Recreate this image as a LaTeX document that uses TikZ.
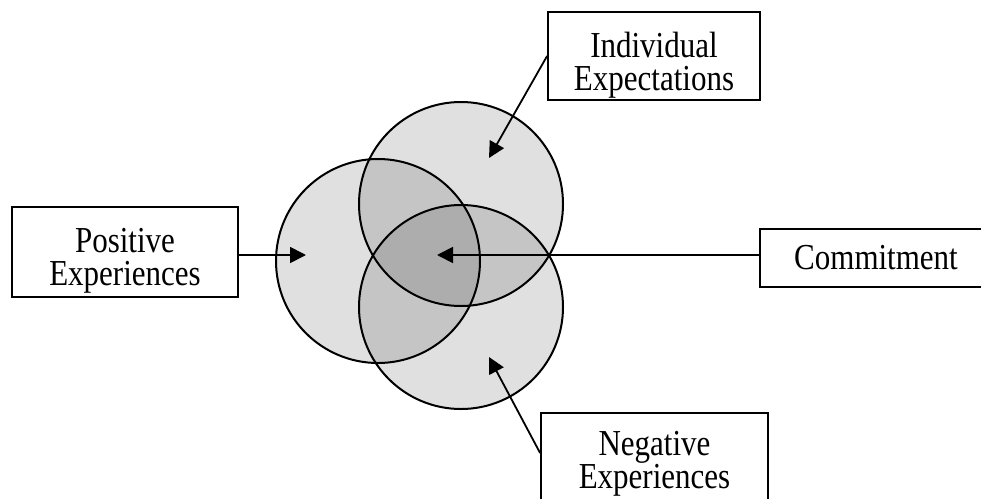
\documentclass[tikz,border=0pt]{standalone}
\usepackage{fontspec}
\setmainfont{Liberation Serif}
\usetikzlibrary{arrows.meta}
\newcommand\talltext[1]{\scalebox{1}[1.18]{#1}}
\begin{document}
\begin{tikzpicture}[x=1pt,y=-1pt,
  box/.style={draw, line width=1.8pt, fill=white, align=center, inner sep=0pt,
    font=\fontsize{31}{33}\selectfont},
  conn/.style={line width=1.8pt, -{Triangle[length=16pt,width=16pt]}},
  disc/.style={circle, inner sep=0pt, minimum size=204pt, fill=black, fill opacity=0.12},
  ring/.style={line width=2pt},
]
\useasboundingbox (0,0) rectangle (981,498);
\clip (0,0) rectangle (981,498);

% shaded circles
\node[disc] (cL) at (378,261) {};
\node[disc] (cT) at (461,204) {};
\node[disc] (cB) at (461,307) {};
\draw[ring] (cL.center) circle (102);
\draw[ring] (cT.center) circle (102);
\draw[ring] (cB.center) circle (102);

% boxes
\node[box, minimum width=226pt, minimum height=90pt, text height=74pt, text depth=8pt] (pos) at (125,252)
  {\talltext{Positive}\\\talltext{Experiences}};
\node[box, minimum width=212pt, minimum height=88pt, text height=76pt, text depth=8pt] (ind) at (654,56)
  {\talltext{Individual}\\\talltext{Expectations}};
\node[box, minimum width=232pt, minimum height=58pt] (com) at (876,258)
  {\talltext{Commitment}};
\node[box, minimum width=227pt, minimum height=92pt, text height=66pt, text depth=8pt] (neg) at (654.5,459)
  {\talltext{Negative}\\\talltext{Experiences}};

% arrow end points
\coordinate (tipP) at (306,255);
\coordinate (tipC) at (437,255);
\coordinate (tipI) at (489,158);
\coordinate (tipN) at (489,357);
\coordinate (srcN) at (541,453);

\draw[conn] (pos.east |- tipP) -- (tipP);
\draw[conn] (com.west |- tipC) -- (tipC);
\draw[conn] (ind.west) -- (tipI);
\draw[conn] (neg.west |- srcN) -- (tipN);
\end{tikzpicture}
\end{document}
